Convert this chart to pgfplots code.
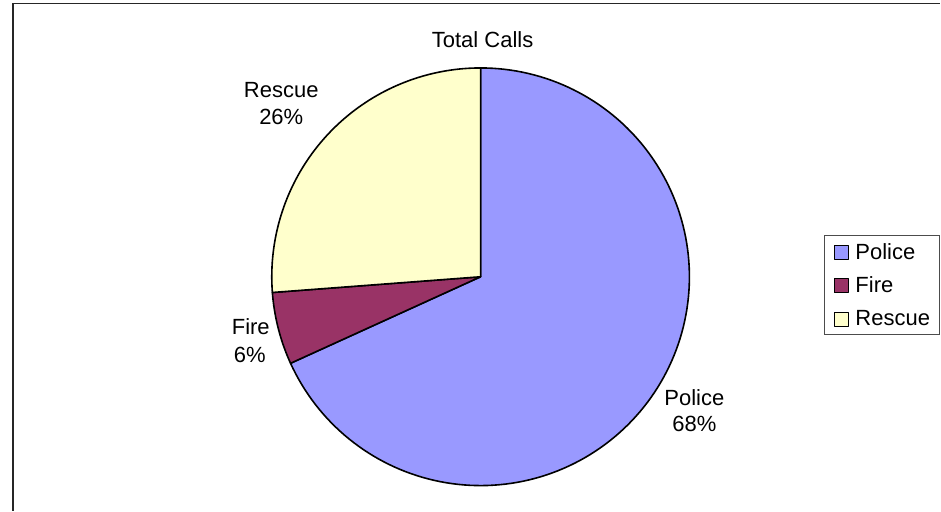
\documentclass[border=0pt]{standalone}
\usepackage{pgfplots}
\pgfplotsset{compat=1.18}
\usepackage{fontspec}
\setmainfont{Liberation Sans}
\definecolor{police}{HTML}{9999FF}
\definecolor{fire}{HTML}{993366}
\definecolor{rescue}{HTML}{FFFFCC}
% data (percent of total calls)
\def\vPolice{68.2}
\def\vFire{5.6}
\def\vRescue{26.2}
\pgfmathsetmacro\aA{90}
\pgfmathsetmacro\aB{90-3.6*\vPolice}
\pgfmathsetmacro\aC{\aB-3.6*\vFire}
\pgfmathsetmacro\aD{\aC-3.6*\vRescue}
\def\cx{481}
\def\cy{234}
\def\rr{209}
\newcommand\lbl{\fontsize{22}{26}\selectfont}
\begin{document}
\begin{tikzpicture}
\begin{axis}[
  width=941pt, height=511pt, scale only axis,
  xmin=0, xmax=941, ymin=0, ymax=511,
  hide axis, clip=false,
  legend image code/.code={\draw[#1,draw=black,line width=0.8pt] (0pt,0pt) rectangle (14pt,14pt);},
  legend style={at={(axis cs:825,276)}, anchor=north west,
    draw=black!70, line width=0.8pt, fill=white,
    inner xsep=9pt, inner ysep=8pt,
    font=\lbl, column sep=7pt, row sep=17pt,
    cells={anchor=base west},
    nodes={inner sep=0pt, text height=16pt, text depth=0pt}},
]
\path (axis cs:0,0) rectangle (axis cs:941,511);
\addplot[fill=police, draw=black, line width=1.6pt, line join=round, domain=\aB:\aA, samples=150]
  ({\cx+\rr*cos(x)},{\cy+\rr*sin(x)}) -- (axis cs:\cx,\cy) -- cycle;
\addlegendentry{Police}
\addplot[fill=fire, draw=black, line width=1.6pt, line join=round, domain=\aC:\aB, samples=30]
  ({\cx+\rr*cos(x)},{\cy+\rr*sin(x)}) -- (axis cs:\cx,\cy) -- cycle;
\addlegendentry{Fire}
\addplot[fill=rescue, draw=black, line width=1.6pt, line join=round, domain=\aD:\aC, samples=80]
  ({\cx+\rr*cos(x)},{\cy+\rr*sin(x)}) -- (axis cs:\cx,\cy) -- cycle;
\addlegendentry{Rescue}
% frame
\draw[black!85, line width=1.6pt] (axis cs:13,0) -- (axis cs:13,507.5) -- (axis cs:941,507.5);
% title and slice labels
\node[anchor=base, font=\lbl] at (axis cs:483,463) {Total Calls};
\node[anchor=base, font=\lbl] at (axis cs:281.5,413.3) {Rescue};
\node[anchor=base, font=\lbl] at (axis cs:281.5,386) {26\%};
\node[anchor=base, font=\lbl] at (axis cs:251,176) {Fire};
\node[anchor=base, font=\lbl] at (axis cs:250,148.3) {6\%};
\node[anchor=base, font=\lbl] at (axis cs:695,105.3) {Police};
\node[anchor=base, font=\lbl] at (axis cs:695,79.3) {68\%};
\end{axis}
\end{tikzpicture}
\end{document}
